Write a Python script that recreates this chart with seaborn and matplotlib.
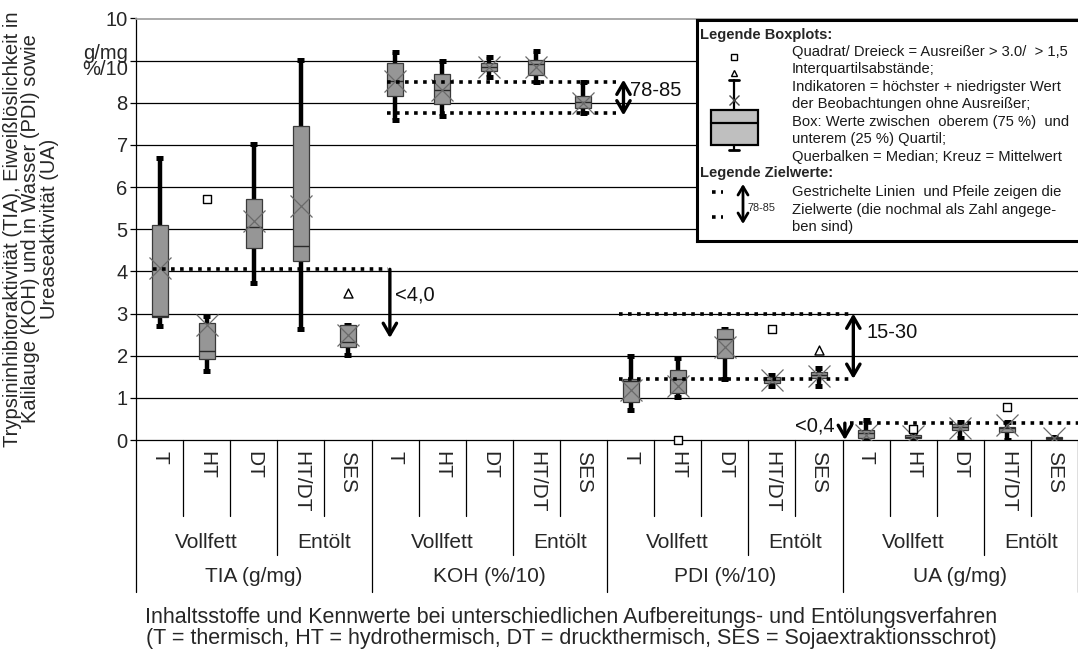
import matplotlib
matplotlib.use("Agg")
import matplotlib.pyplot as plt
import matplotlib.transforms as mtransforms
import numpy as np
import pandas as pd
import seaborn as sns

# --- data -------------------------------------------------------------------
groups = ["TIA (g/mg)", "KOH (%/10)", "PDI (%/10)", "UA (g/mg)"]
subgroups = ["Vollfett", "Entölt"]
methods = ["T", "HT", "DT", "HT/DT", "SES"]

whis_lo = [2.71, 1.64, 3.73, 2.63, 2.02,
           7.59, 7.69, 8.62, 8.50, 7.75,
           0.71, 1.03, 1.44, 1.29, 1.27,
           0.00, 0.02, 0.05, 0.00, 0.00]
q1 = [2.91, 1.91, 4.55, 4.25, 2.21,
      8.15, 7.98, 8.75, 8.66, 7.87,
      0.91, 1.11, 1.94, 1.35, 1.46,
      0.04, 0.05, 0.24, 0.18, 0.02]
median = [2.95, 2.10, 5.06, 4.60, 2.32,
          8.52, 8.30, 8.86, 8.91, 8.03,
          1.40, 1.44, 2.39, 1.43, 1.54,
          0.16, 0.08, 0.32, 0.28, 0.04]
q3 = [5.10, 2.77, 5.72, 7.44, 2.72,
      8.95, 8.68, 8.95, 9.02, 8.15,
      1.44, 1.66, 2.63, 1.49, 1.62,
      0.24, 0.12, 0.39, 0.32, 0.07]
whis_hi = [6.70, 2.94, 7.02, 9.01, 2.72,
           9.20, 9.00, 9.09, 9.22, 8.50,
           1.99, 1.94, 2.63, 1.54, 1.70,
           0.47, 0.16, 0.42, 0.43, 0.08]
mean = [4.07, 2.73, 5.20, 5.54, 2.49,
        8.52, 8.30, 8.85, 8.84, 8.00,
        1.19, 1.27, 2.21, 1.43, 1.52,
        0.12, 0.10, 0.28, 0.36, 0.04]

# outliers: category index, value
out_sq_pos = [1, 11, 13, 16, 18]
out_sq_val = [5.71, 0.00, 2.63, 0.25, 0.79]
out_tri_pos = [4, 14]
out_tri_val = [3.49, 2.14]

# target values (Zielwerte)
tia_max = 4.05
koh_range = [7.75, 8.5]
pdi_range = [1.45, 3.0]
ua_max = 0.4

ytick_labels = ["0", "1", "2", "3", "4", "5", "6", "7", "8", "g/mg\n%/10", "10"]

# --- figure -------------------------------------------------------------------
sns.set_theme(style="white")
plt.rcParams['font.family'] = ['Liberation Sans', 'DejaVu Sans']

W, H = 1078, 655
fig = plt.figure(figsize=(W / 100, H / 100), dpi=100)
ax = fig.add_axes([136 / W, 1 - 440 / H, (W - 136) / W, (440 - 18.5) / H])

n = len(q1)
pos = np.arange(n)
stats = [dict(whislo=whis_lo[i], q1=q1[i], med=median[i], q3=q3[i],
              whishi=whis_hi[i], mean=mean[i], fliers=[]) for i in range(n)]

for yv in range(1, 10):
    ax.axhline(yv, color='black', lw=0.9, zorder=1)

ax.bxp(stats, positions=pos, widths=0.34, capwidths=0.15, patch_artist=True,
       showmeans=True, showfliers=False,
       boxprops=dict(facecolor='#969696', edgecolor='#3a3a3a', lw=0.9, zorder=4),
       whiskerprops=dict(color='black', lw=3.2, solid_capstyle='butt', zorder=3),
       capprops=dict(color='black', lw=3.6, solid_capstyle='butt', zorder=3),
       medianprops=dict(color='#2a2a2a', lw=1.0, zorder=5),
       meanprops=dict(marker='x', markersize=16, markeredgecolor='#6a6a6a',
                      markeredgewidth=0.9, zorder=6))

sns.scatterplot(x=out_sq_pos, y=out_sq_val, marker='s', s=38, color='white',
                edgecolor='black', linewidth=1, ax=ax, zorder=8, clip_on=False)
sns.scatterplot(x=out_tri_pos, y=out_tri_val, marker='^', s=42, color='white',
                edgecolor='black', linewidth=1, ax=ax, zorder=8, clip_on=False)

# target lines and arrows
dot = dict(color='black', lw=2.6, ls=(0, (1, 1.5)), zorder=7, solid_capstyle='butt')
ax.plot([-0.14, 4.85], [tia_max, tia_max], **dot)
for yv in koh_range:
    ax.plot([4.82, 9.7], [yv, yv], **dot)
for yv in pdi_range:
    ax.plot([9.76, 14.66], [yv, yv], **dot)
ax.plot([14.66, 19.6], [ua_max, ua_max], clip_on=False, **dot)

arr1 = dict(arrowstyle='->, head_length=0.55, head_width=0.32', lw=2.4,
            color='black', shrinkA=0, shrinkB=0, mutation_scale=15)
arr2 = dict(arrowstyle='<->, head_length=0.55, head_width=0.32', lw=2.4,
            color='black', shrinkA=0, shrinkB=0, mutation_scale=15)
ax.annotate('', xy=(4.89, 2.42), xytext=(4.89, tia_max), arrowprops=arr1, zorder=7)
ax.annotate('', xy=(9.85, koh_range[0] - 0.05), xytext=(9.85, koh_range[1] + 0.05),
            arrowprops=arr2, zorder=7)
ax.annotate('', xy=(14.73, pdi_range[0]), xytext=(14.73, pdi_range[1]),
            arrowprops=arr2, zorder=7)
ax.annotate('', xy=(14.55, 0.0), xytext=(14.55, ua_max), arrowprops=arr1, zorder=7)

lab = dict(fontsize=14.5, color='#111111', va='center', zorder=9)
ax.text(5.0, 3.44, "<4,0", ha='left', **lab)
ax.text(9.99, 8.3, "78-85", ha='left', **lab)
ax.text(15.0, 2.56, "15-30", ha='left', **lab)
ax.text(14.33, 0.33, "<0,4", ha='right', **lab)

# axes styling
ax.set_xlim(-0.5, n - 0.5)
ax.set_ylim(0, 10)
ax.set_yticks(range(11))
ax.set_yticklabels(ytick_labels, fontsize=14.5, linespacing=0.85)
unit_lab = ax.get_yticklabels()[9]
unit_lab.set_transform(unit_lab.get_transform() +
                       mtransforms.ScaledTranslation(0, -4 / 72, fig.dpi_scale_trans))
ax.set_xticks([])
ax.tick_params(axis='y', direction='out', length=4, width=0.9, color='black', pad=2,
               left=True)
ax.spines['left'].set_color('black')
ax.spines['bottom'].set_color('black')
ax.spines['left'].set_linewidth(0.9)
ax.spines['bottom'].set_linewidth(0.9)
ax.spines['top'].set_color('#a0a0a0')
ax.spines['right'].set_visible(False)

# hierarchical category axis
trans = mtransforms.blended_transform_factory(ax.transData, ax.transAxes)
ah = 440 - 18.5
y1, y2, y3 = -(516 - 440) / ah, -(555 - 440) / ah, -(592 - 440) / ah
for b in range(n + 1):
    if b % 5 == 0:
        yb = y3
    elif b % 5 == 3:
        yb = y2
    else:
        yb = y1
    ax.plot([b - 0.5, b - 0.5], [0, yb], transform=trans, color='black',
            lw=0.9, clip_on=False)

for i in range(n):
    ax.text(i, -(451 - 440) / ah, methods[i % 5], transform=trans, rotation=270,
            ha='center', va='top', fontsize=15)
for g, gname in enumerate(groups):
    ax.text(g * 5 + 1, -(543 - 440) / ah, subgroups[0], transform=trans,
            ha='center', va='center', fontsize=15)
    ax.text(g * 5 + 3.5, -(543 - 440) / ah, subgroups[1], transform=trans,
            ha='center', va='center', fontsize=15)
    ax.text(g * 5 + 2, -(577 - 440) / ah, gname, transform=trans,
            ha='center', va='center', fontsize=15)

fig.text(31 / W, 1 - 229 / H,
         "Trypsininhibitoraktivität (TIA), Eiweißlöslichkeit in\n"
         "Kalilauge (KOH) und in Wasser (PDI) sowie\nUreaseaktivität (UA)",
         rotation=90, ha='center', va='center', multialignment='center',
         fontsize=14.5, linespacing=0.98)
fig.text(571 / W, 1 - 628 / H,
         "Inhaltsstoffe und Kennwerte bei unterschiedlichen Aufbereitungs- und Entölungsverfahren\n"
         "(T = thermisch, HT = hydrothermisch, DT = druckthermisch, SES = Sojaextraktionsschrot)",
         ha='center', va='center', fontsize=15.5, linespacing=0.98)

# --- legend box (pixel coordinates) --------------------------------------------
lg = fig.add_axes([697 / W, 1 - 241 / H, 392 / W, 221 / H])
lg.set_xlim(697, 1089)
lg.set_ylim(241, 20)
lg.set_xticks([])
lg.set_yticks([])
lg.set_facecolor('white')
for s in lg.spines.values():
    s.set_color('black')
    s.set_linewidth(2.2)

lg.text(700, 35, "Legende Boxplots:", fontsize=10.5, fontweight='bold', va='center')
lg.add_patch(plt.Rectangle((711, 110), 47, 35, facecolor='#bfbfbf',
                           edgecolor='black', lw=1.6, zorder=3))
lg.plot([711, 758], [123, 123], color='black', lw=1.6, zorder=4)
lg.plot([734, 734], [80, 110], color='black', lw=1.6)
lg.plot([734, 734], [145, 150], color='black', lw=1.6)
lg.plot([729, 739], [80, 80], color='black', lw=2)
lg.plot([729, 739], [150, 150], color='black', lw=2)
lg.plot([734], [100], marker='x', ms=7, mec='#444444', mew=1)
lg.plot([734], [73], marker='^', ms=5, mfc='white', mec='black', mew=1)
lg.plot([734], [57], marker='s', ms=5, mfc='white', mec='black', mew=1)

legend_lines = ["Quadrat/ Dreieck = Ausreißer > 3.0/  > 1,5",
                "Interquartilsabstände;",
                "Indikatoren = höchster + niedrigster Wert",
                "der Beobachtungen ohne Ausreißer;",
                "Box: Werte zwischen  oberem (75 %)  und",
                "unterem (25 %) Quartil;",
                "Querbalken = Median; Kreuz = Mittelwert"]
for k, t in enumerate(legend_lines):
    lg.text(792, 51.7 + k * 17.5, t, fontsize=10.6, va='center', color='#1a1a1a')

lg.text(700, 173, "Legende Zielwerte:", fontsize=10.5, fontweight='bold', va='center')
for yv in (192, 217):
    lg.plot([712, 723], [yv, yv], color='black', lw=2.6, ls=(0, (1, 1.5)),
            solid_capstyle='butt')
lg.annotate('', xy=(743, 224), xytext=(743, 184),
            arrowprops=dict(arrowstyle='<->, head_length=0.5, head_width=0.3', lw=2,
                            color='black', shrinkA=0, shrinkB=0, mutation_scale=12))
lg.text(748, 208, "78-85", fontsize=7.8, va='center')
for k, t in enumerate(["Gestrichelte Linien  und Pfeile zeigen die",
                       "Zielwerte (die nochmal als Zahl angege-",
                       "ben sind)"]):
    lg.text(792, 192 + k * 17.7, t, fontsize=10.6, va='center', color='#1a1a1a')

fig.savefig("out.png", dpi=100)
